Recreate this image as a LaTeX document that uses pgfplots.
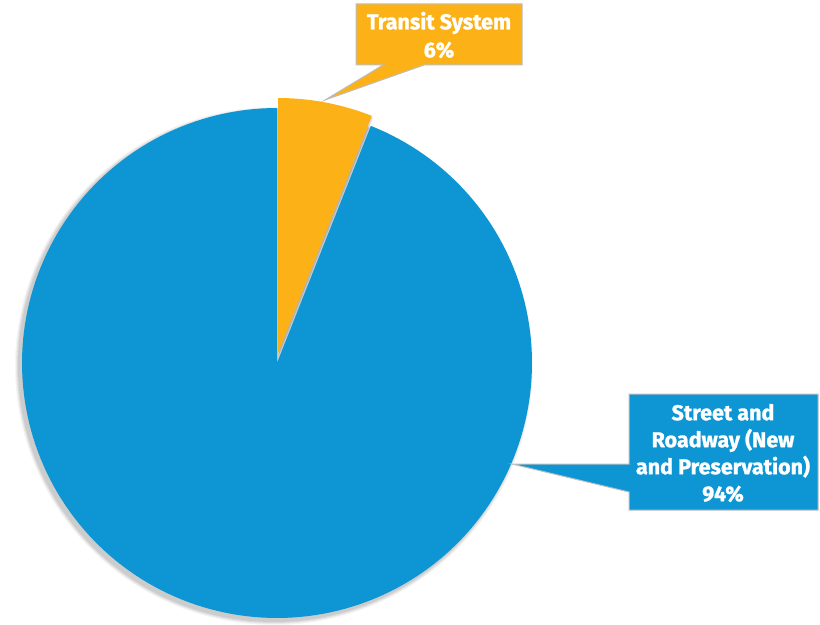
\documentclass[border=0pt]{standalone}
\usepackage{pgfplots}
\pgfplotsset{compat=1.18}
\usepackage{fontspec}
\setmainfont{Fira Sans}[BoldFeatures={FakeBold=1.2}]
\definecolor{pieblue}{RGB}{14,150,212}
\definecolor{pieorange}{RGB}{252,178,22}
\definecolor{edgegray}{RGB}{190,190,190}
\def\pTransit{6}
\def\pStreet{94}
\begin{document}
\begin{tikzpicture}
\begin{axis}[
  width=820pt, height=620pt, scale only axis,
  xmin=0, xmax=820, ymin=0, ymax=620, y dir=reverse,
  hide axis, clip=false]
% invisible frame to fix the page size
\path (axis cs:0,0) rectangle (axis cs:820,620);
% soft shadow
\addplot[draw=none, fill=black, fill opacity=0.04, domain=0:360, samples=180]
  ({274+259*sin(x)},{366-259*cos(x)}) -- cycle;
\addplot[draw=none, fill=black, fill opacity=0.05, domain=0:360, samples=180]
  ({274+258*sin(x)},{366-258*cos(x)}) -- cycle;
\addplot[draw=none, fill=black, fill opacity=0.06, domain=0:360, samples=180]
  ({274+257*sin(x)},{366-257*cos(x)}) -- cycle;
\addplot[draw=none, fill=black, fill opacity=0.07, domain=0:360, samples=180]
  ({274+256*sin(x)},{366-256*cos(x)}) -- cycle;
% Street and Roadway slice
\addplot[draw=none, fill=pieblue, domain={3.6*\pTransit}:360, samples=200]
  ({277+255*sin(x)},{363-255*cos(x)}) -- (axis cs:277,363) -- cycle;
% Transit slice shadow + slice (exploded)
\addplot[draw=none, fill=black, fill opacity=0.12, domain=0:{3.6*\pTransit}, samples=30]
  ({279+255*sin(x)},{355-255*cos(x)}) -- (axis cs:279,355) -- cycle;
\addplot[draw=none, fill=pieorange, domain=0:{3.6*\pTransit}, samples=30]
  ({278+255*sin(x)},{353-255*cos(x)}) -- (axis cs:278,353) -- cycle;
% callouts
\draw[edgegray, line width=1pt, fill=pieorange, line join=miter]
  (axis cs:356,4) -- (axis cs:522,4) -- (axis cs:522,65) -- (axis cs:424,65)
  -- (axis cs:325,100) -- (axis cs:383,65) -- (axis cs:356,65) -- cycle;
\draw[edgegray, line width=1pt, fill=pieblue, line join=miter]
  (axis cs:629,394) -- (axis cs:818,394) -- (axis cs:818,510) -- (axis cs:629,510)
  -- (axis cs:629,492) -- (axis cs:512,464) -- (axis cs:629,464) -- cycle;
\node[text=white, font=\fontsize{21.5}{28}\selectfont\bfseries, align=center, inner sep=0pt]
  at (axis cs:439,35) {Transit System\\\pTransit\%};
\node[text=white, font=\fontsize{21.5}{27}\selectfont\bfseries, align=center, inner sep=0pt]
  at (axis cs:723,453) {Street and\\Roadway (New\\and Preservation)\\\pStreet\%};
\end{axis}
\end{tikzpicture}
\end{document}
